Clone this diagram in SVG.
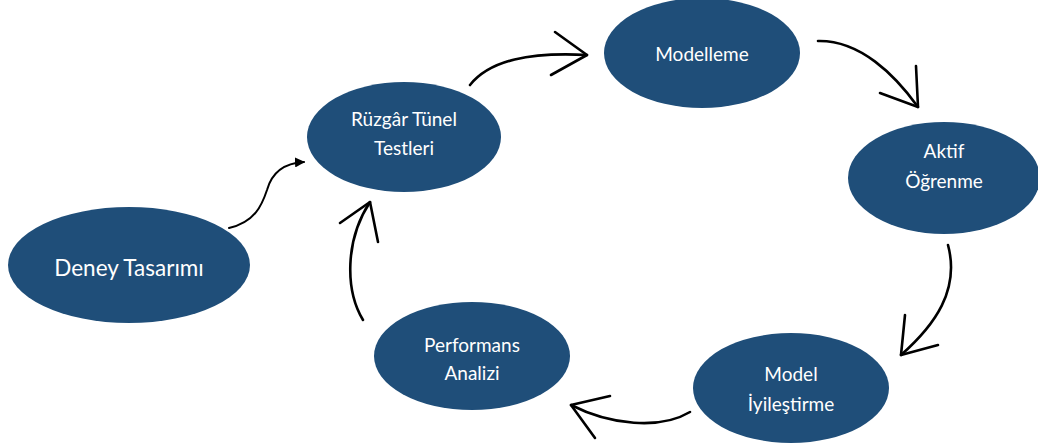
<svg xmlns="http://www.w3.org/2000/svg" width="1038" height="448" viewBox="0 0 1038 448">
<style>
.n{fill:#1F4E79}
.t{fill:#fff;font-family:Lato,"Open Sans","Liberation Sans",sans-serif;font-size:19px;text-anchor:middle;dominant-baseline:central}
.c{fill:none;stroke:#000;stroke-width:2.6;stroke-linecap:round;stroke-linejoin:round}
</style>
<defs>
<marker id="ah" viewBox="0 0 10 10" refX="9" refY="5" markerWidth="5" markerHeight="5" orient="auto"><path d="M0,0 L10,5 L0,10 Z" fill="#000"/></marker>
</defs>
<rect width="1038" height="448" fill="#fff"/>
<g id="deney"><ellipse class="n" cx="129" cy="265" rx="121" ry="58"/><text class="t" x="129" y="267" style="font-size:22.5px">Deney Tasarımı</text></g>
<g id="ruzgar"><ellipse class="n" cx="404" cy="137" rx="97" ry="55"/><text class="t" x="404" y="118">Rüzgâr Tünel</text><text class="t" x="404" y="147">Testleri</text></g>
<g id="modelleme"><ellipse class="n" cx="702" cy="53" rx="98" ry="55"/><text class="t" x="702" y="53">Modelleme</text></g>
<g id="aktif"><ellipse class="n" cx="944" cy="178" rx="96" ry="56"/><text class="t" x="944" y="150">Aktif</text><text class="t" x="944" y="180">Öğrenme</text></g>
<g id="model"><ellipse class="n" cx="791" cy="388" rx="98" ry="55"/><text class="t" x="791" y="373">Model</text><text class="t" x="791" y="403">İyileştirme</text></g>
<g id="performans"><ellipse class="n" cx="472" cy="356" rx="98" ry="54"/><text class="t" x="472" y="344">Performans</text><text class="t" x="472" y="372">Analizi</text></g>
<g id="connectors">
<path class="c" d="M229,228 C255,222 262,205 267,190 C272,172 285,163 304,162" marker-end="url(#ah)" style="stroke-width:2"/>
<path class="c" d="M470,85 C490,60 530,52 587,55"/>
<path class="c" d="M555,32 L587,55 L551,75"/>
<path class="c" d="M818,41 C860,40 895,75 918,107"/>
<path class="c" d="M916,66 L918,107 L880,93"/>
<path class="c" d="M948,245 C960,290 935,325 901,355"/>
<path class="c" d="M905,315 L901,355 L938,345"/>
<path class="c" d="M690,412 C660,430 610,425 571,405"/>
<path class="c" d="M610,396 L571,405 L595,438"/>
<path class="c" d="M363,320 C345,290 345,240 370,202"/>
<path class="c" d="M340,223 L370,202 L378,242"/>
</g>
</svg>
